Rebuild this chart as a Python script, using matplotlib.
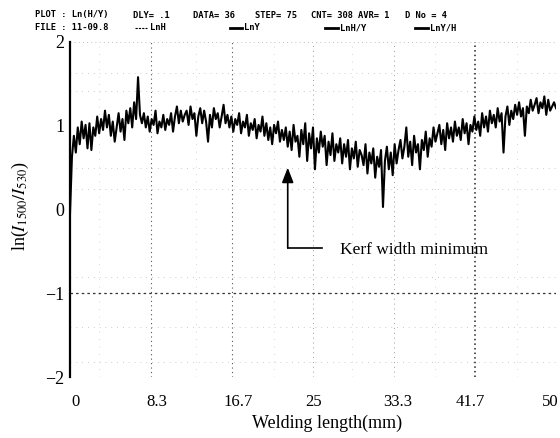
import numpy as np
import matplotlib
matplotlib.use("Agg")
import matplotlib.pyplot as plt
from matplotlib.lines import Line2D
import matplotlib.transforms as mtrans

# ---- data ----
x_step_mm = 0.2
ln_ratio = [
    -0.05, 0.63, 0.88, 0.68, 0.98, 0.78, 1.05, 0.85, 1.01, 0.73,
    1.03, 0.71, 0.98, 0.88, 1.11, 0.91, 1.08, 0.95, 1.18, 0.98,
    1.13, 0.88, 1.05, 0.81, 0.98, 1.15, 0.93, 1.08, 0.83, 1.18,
    1.03, 1.21, 0.98, 1.28, 1.08, 1.58, 1.13, 1.03, 1.15, 0.98,
    1.11, 0.93, 1.08, 1.01, 1.18, 0.91, 1.05, 0.98, 1.13, 0.95,
    1.08, 1.01, 1.15, 0.93, 1.11, 1.23, 1.03, 1.18, 1.05, 1.13,
    1.18, 1.01, 1.23, 1.08, 1.15, 0.88, 1.11, 1.21, 1.03, 1.18,
    1.05, 0.81, 1.13, 0.98, 1.21, 1.08, 1.15, 0.98, 1.11, 1.25,
    1.03, 1.13, 0.98, 1.11, 0.93, 1.08, 1.01, 1.15, 0.91, 1.05,
    0.98, 1.13, 0.88, 1.03, 0.95, 1.08, 0.85, 1.01, 0.93, 1.11,
    0.88, 1.03, 0.83, 0.98, 0.78, 1.01, 0.91, 1.05, 0.81, 0.95,
    0.83, 0.98, 0.75, 0.93, 0.71, 1.01, 0.81, 0.88, 0.63, 0.95,
    0.78, 1.03, 0.58, 0.91, 0.73, 0.98, 0.48, 0.85, 0.68, 0.93,
    0.75, 0.88, 0.53, 0.81, 0.65, 0.91, 0.58, 0.78, 0.68, 0.85,
    0.55, 0.78, 0.63, 0.83, 0.48, 0.73, 0.61, 0.81, 0.51, 0.71,
    0.65, 0.53, 0.78, 0.43, 0.68, 0.55, 0.73, 0.38, 0.63, 0.51,
    0.71, 0.03, 0.58, 0.75, 0.48, 0.68, 0.41, 0.78, 0.55, 0.71,
    0.83, 0.61, 0.75, 0.98, 0.63, 0.81, 0.53, 0.88, 0.68, 0.78,
    0.48, 0.83, 0.71, 0.93, 0.63, 0.85, 0.75, 0.98, 0.81, 0.91,
    1.01, 0.78, 0.95, 0.71, 1.03, 0.85, 0.98, 0.81, 1.05, 0.88,
    0.98, 0.83, 1.08, 0.91, 1.03, 0.78, 1.01, 0.93, 1.11, 0.95,
    1.05, 0.88, 1.15, 0.98, 1.11, 0.93, 1.18, 1.03, 1.13, 0.98,
    1.21, 1.05, 1.15, 0.68, 1.11, 1.23, 1.01, 1.18, 1.08, 1.25,
    1.13, 1.28, 1.11, 1.21, 0.88, 1.23, 1.15, 1.31, 1.18, 1.25,
    1.33, 1.15, 1.28, 1.21, 1.35, 1.13, 1.31, 1.18, 1.23, 1.28, 1.21,
]
x_ticks = [0, 8.333, 16.667, 25, 33.333, 41.667, 50]
x_tick_labels = ["0", "8.3", "16.7", "25", "33.3", "41.7", "50"]
y_ticks = [-2, -1, 0, 1, 2]
y_tick_labels = ["\u22122", "\u22121", "0", "1", "2"]
annot_x = 22.4
annot_tip_y = 0.50
annot_base_y = -0.46
annot_text = "Kerf width minimum"

welding_mm = np.arange(len(ln_ratio)) * x_step_mm

plt.rcParams["font.family"] = ["Liberation Serif", "DejaVu Serif"]
plt.rcParams["mathtext.fontset"] = "stix"

fig = plt.figure(figsize=(5.6, 4.38), dpi=100)
ax = fig.add_axes([70/560, 1-377/438, 486/560, 335/438])

ax.set_xlim(0, 50)
ax.set_ylim(-2, 2)

# grid lines
for xv, col, lw, ls in [(8.333, "#555555", 0.8, (0, (1, 3))),
                        (16.667, "#555555", 0.8, (0, (1, 3))),
                        (25, "#999999", 0.7, (0, (1, 4))),
                        (33.333, "#999999", 0.7, (0, (1, 4))),
                        (41.667, "#222222", 1.1, (0, (1, 2))),
                        (50, "#888888", 0.7, (0, (1, 2.5)))]:
    ax.axvline(xv, color=col, lw=lw, ls=ls, zorder=1)
for yv in [1.63, 1.42, 0.5, 0.25, -0.8, -1.4, -1.82]:
    ax.axhline(yv, color="#bbbbbb", lw=0.6, ls=(0, (1, 6)), zorder=1)
for xv in [3, 13, 21, 29, 37.5, 46]:
    ax.axvline(xv, color="#c8c8c8", lw=0.6, ls=(0, (1, 8)), zorder=1)
ax.axhline(-1, color="#333333", lw=0.9, ls=(0, (2, 2.5)), zorder=1)
ax.axhline(-2, color="#999999", lw=0.7, ls=(0, (1, 3)), zorder=1)
ax.axhline(2, color="#aaaaaa", lw=0.6, ls=(0, (1, 4)), zorder=1)

ax.plot(welding_mm, ln_ratio, color="black", lw=1.5, zorder=3)

for s in ["top", "right", "bottom"]:
    ax.spines[s].set_visible(False)
ax.spines["left"].set_linewidth(1.6)

ax.set_xticks(x_ticks)
ax.set_xticklabels(x_tick_labels, fontsize=12)
ax.set_yticks(y_ticks)
ax.set_yticklabels(y_tick_labels, fontsize=13)
ax.tick_params(axis="x", length=0, pad=12)
ax.tick_params(axis="y", length=0, pad=4)
for lab, dx in zip(ax.get_xticklabels(), [6, 6, 6, 1, 4, -5, -6]):
    lab.set_transform(lab.get_transform() + mtrans.ScaledTranslation(dx/100, 0, fig.dpi_scale_trans))

# annotation
ax.annotate("", xy=(annot_x, annot_tip_y), xytext=(annot_x, annot_base_y),
            arrowprops=dict(arrowstyle="-|>,head_length=0.9,head_width=0.35",
                            color="black", lw=1.2, shrinkA=0, shrinkB=0), zorder=5)
ax.plot([annot_x, 25.9], [annot_base_y, annot_base_y], color="black", lw=1.2, zorder=5)
ax.text(27.8, annot_base_y - 0.02, annot_text, fontsize=12.5, va="center", ha="left", zorder=5)

# axis labels
fig.text(20/560, 1-206/438, r"ln($I_{1500}/I_{530}$)", rotation=90,
         fontsize=13, ha="center", va="center")
fig.text(327/560, 1-423/438, "Welding length(mm)", fontsize=13, ha="center", va="center")

# header
mono = dict(family="DejaVu Sans Mono", fontsize=6.3, fontweight="bold", va="center", ha="left")
y1 = 1 - 15/438
y2 = 1 - 28/438
for xp, t in [(35, "PLOT : Ln(H/Y)"), (133, "DLY= .1"), (193, "DATA= 36"),
              (255, "STEP= 75"), (311, "CNT= 308"), (358, "AVR= 1"), (405, "D No = 4")]:
    fig.text(xp/560, y1, t, **mono)
fig.text(35/560, y2, "FILE : 11-09.8", **mono)
for x0, x1, lw, ls, tx, t in [(135, 147, 0.8, (0, (2, 1)), 150, "LnH"),
                              (230, 242, 2.0, "-", 244, "LnY"),
                              (325, 338, 2.0, "-", 340, "LnH/Y"),
                              (415, 428, 2.0, "-", 430, "LnY/H")]:
    fig.add_artist(Line2D([x0/560, x1/560], [y2, y2], transform=fig.transFigure,
                          color="black", lw=lw, ls=ls))
    fig.text(tx/560, y2, t, **mono)

fig.savefig("out.png", dpi=100)
